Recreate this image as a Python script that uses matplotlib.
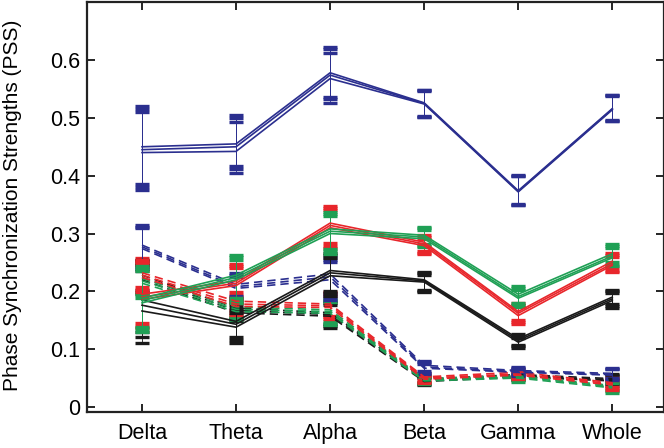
import matplotlib
matplotlib.use("Agg")
import matplotlib.pyplot as plt

plt.rcParams["font.family"] = ["Liberation Sans", "DejaVu Sans"]

bands = ["Delta", "Theta", "Alpha", "Beta", "Gamma", "Whole"]
xpos = [1, 2, 3, 4, 5, 6]

# several subjects/conditions per group -> a few overlapping lines each
blue_solid = [
    [0.450, 0.455, 0.578, 0.526, 0.374, 0.516],
    [0.445, 0.450, 0.574, 0.525, 0.373, 0.515],
    [0.440, 0.442, 0.568, 0.524, 0.372, 0.514],
]
blue_solid_up = [0.070, 0.050, 0.045, 0.023, 0.027, 0.024]
blue_solid_lo = [0.065, 0.038, 0.042, 0.023, 0.023, 0.020]

blue_dashed = [
    [0.280, 0.212, 0.230, 0.072, 0.063, 0.058],
    [0.277, 0.208, 0.225, 0.069, 0.061, 0.056],
    [0.274, 0.205, 0.220, 0.067, 0.060, 0.055],
]
blue_dashed_up = [0.035, 0.020, 0.030, 0.008, 0.006, 0.010]
blue_dashed_lo = [0.035, 0.020, 0.035, 0.010, 0.006, 0.008]

red_solid = [
    [0.195, 0.218, 0.318, 0.285, 0.165, 0.252],
    [0.190, 0.214, 0.314, 0.282, 0.162, 0.248],
    [0.186, 0.210, 0.310, 0.279, 0.158, 0.245],
]
red_solid_up = [0.060, 0.030, 0.030, 0.012, 0.015, 0.015]
red_solid_lo = [0.050, 0.030, 0.035, 0.015, 0.015, 0.012]

green_solid = [
    [0.188, 0.228, 0.308, 0.297, 0.195, 0.265],
    [0.184, 0.224, 0.304, 0.294, 0.191, 0.261],
    [0.180, 0.220, 0.300, 0.291, 0.188, 0.258],
]
green_solid_up = [0.055, 0.035, 0.030, 0.015, 0.015, 0.017]
green_solid_lo = [0.050, 0.040, 0.035, 0.015, 0.015, 0.015]

black_solid = [
    [0.185, 0.148, 0.236, 0.220, 0.118, 0.190],
    [0.176, 0.143, 0.232, 0.218, 0.115, 0.187],
    [0.166, 0.138, 0.227, 0.216, 0.112, 0.184],
]
black_solid_up = [0.070, 0.025, 0.030, 0.013, 0.008, 0.013]
black_solid_lo = [0.055, 0.027, 0.035, 0.017, 0.010, 0.012]

red_dashed = [
    [0.232, 0.183, 0.178, 0.052, 0.060, 0.042],
    [0.228, 0.178, 0.175, 0.050, 0.057, 0.040],
    [0.224, 0.174, 0.172, 0.048, 0.055, 0.038],
]
green_dashed = [
    [0.222, 0.173, 0.168, 0.049, 0.054, 0.037],
    [0.218, 0.169, 0.165, 0.047, 0.052, 0.035],
    [0.214, 0.165, 0.162, 0.045, 0.050, 0.033],
]
black_dashed = [
    [0.228, 0.171, 0.163, 0.048, 0.056, 0.049],
    [0.224, 0.167, 0.160, 0.046, 0.054, 0.047],
    [0.220, 0.163, 0.157, 0.044, 0.052, 0.045],
]
dashed_up = [0.025, 0.015, 0.020, 0.006, 0.006, 0.008]
dashed_lo = [0.025, 0.015, 0.020, 0.006, 0.006, 0.008]

BLUE = "#2b2f8f"
RED = "#e8262b"
GREEN = "#1fa055"
BLACK = "#1a1a1a"

fig = plt.figure(figsize=(6.64, 4.48), dpi=100)
ax = fig.add_axes([0.131, 0.080, 0.869, 0.915])


def draw(lines, up, lo, color, ls):
    for ys in lines:
        ax.errorbar(xpos, ys, yerr=[lo, up], color=color, ls=ls,
                    lw=1.2, elinewidth=0.6, capsize=5, capthick=2.4,
                    dashes=(5, 3) if ls == "--" else (None, None))


draw(black_dashed, dashed_up, dashed_lo, BLACK, "--")
draw(green_dashed, dashed_up, dashed_lo, GREEN, "--")
draw(red_dashed, dashed_up, dashed_lo, RED, "--")
draw(blue_dashed, blue_dashed_up, blue_dashed_lo, BLUE, "--")
draw(black_solid, black_solid_up, black_solid_lo, BLACK, "-")
draw(red_solid, red_solid_up, red_solid_lo, RED, "-")
draw(green_solid, green_solid_up, green_solid_lo, GREEN, "-")
draw(blue_solid, blue_solid_up, blue_solid_lo, BLUE, "-")

ax.set_xlim(0.415, 6.55)
ax.set_ylim(-0.009, 0.7)
ax.set_xticks(xpos)
ax.set_xticklabels(bands)
ax.set_yticks([0, 0.1, 0.2, 0.3, 0.4, 0.5, 0.6])
ax.set_yticklabels(["0", "0.1", "0.2", "0.3", "0.4", "0.5", "0.6"])
ax.tick_params(direction="in", top=True, right=True, length=6, width=1.2,
               labelsize=15.5)
ax.tick_params(axis="x", pad=8)
ax.tick_params(axis="y", pad=5)
for s in ax.spines.values():
    s.set_linewidth(1.6)
    s.set_color("#222222")
ax.set_ylabel("Phase Synchronization Strengths (PSS)", fontsize=15)
ax.yaxis.set_label_coords(-0.112, 0.505)

plt.savefig("out.png", dpi=100)
